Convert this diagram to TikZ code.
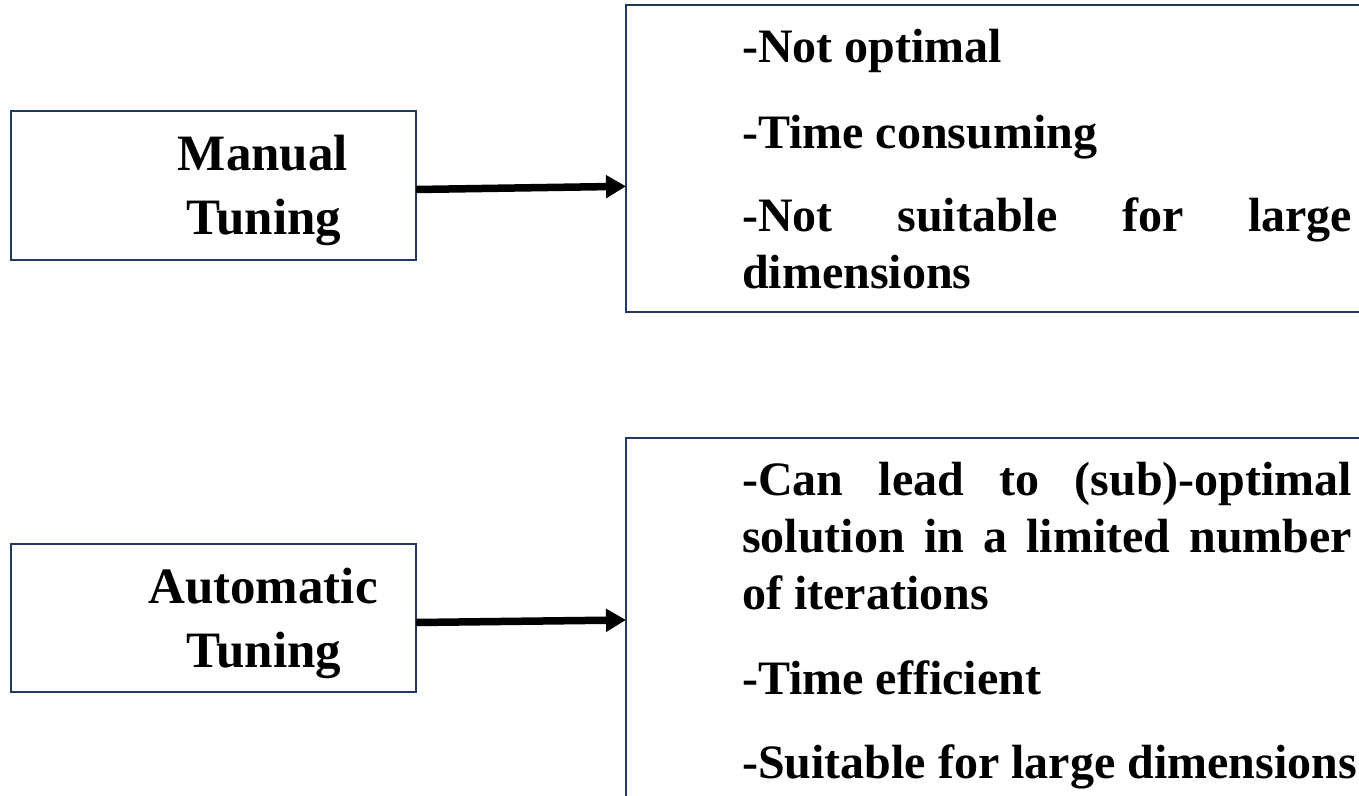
\documentclass[tikz,border=0pt]{standalone}
\usepackage{fontspec}
\setmainfont{Liberation Serif}
\usetikzlibrary{arrows.meta}
\definecolor{boxblue}{RGB}{32,56,100}
\begin{document}
\begin{tikzpicture}[x=1bp,y=-1bp,
  frame/.style={draw=boxblue, line width=2bp, anchor=north west, inner sep=0pt, outer sep=0pt},
  lefttxt/.style={anchor=base, inner sep=0pt, font=\fontsize{51bp}{60bp}\selectfont\bfseries},
  righttxt/.style={anchor=base west, inner sep=0pt, font=\fontsize{48bp}{56bp}\selectfont\bfseries},
  arr/.style={line width=7.5bp, -{Triangle[length=20bp,width=22bp]}}]
\useasboundingbox (0,0) rectangle (1359,795);
\clip (0,0) rectangle (1359,795);

% left boxes
\node[frame, minimum width=405bp, minimum height=149bp] (man) at (11,111) {};
\node[frame, minimum width=405bp, minimum height=148bp] (auto) at (11,544) {};

% right boxes (running past the page edge)
\node[frame, minimum width=800bp, minimum height=307bp] (manres) at (626,5) {};
\node[frame, minimum width=800bp, minimum height=400bp] (autores) at (626,438) {};

% box titles
\node[lefttxt] (manA) at (263,170) {Manual};
\node[lefttxt] (manB) at (264,234) {Tuning};
\node[lefttxt] (autoA) at (263,603) {Automatic};
\node[lefttxt] (autoB) at (264,667) {Tuning};

% properties of manual tuning
\node[righttxt] (m1) at (742,63) {-Not optimal};
\node[righttxt] (m2) at (742,148) {-Time consuming};
\node[righttxt] (m3) at (742,231) {\hbox to 610bp{-Not\hfill suitable\hfill for\hfill large}};
\node[righttxt] (m4) at (742,288) {dimensions};

% properties of automatic tuning
\node[righttxt] (a1) at (742,495) {\hbox to 610bp{-Can\hfill lead\hfill to\hfill (sub)-optimal}};
\node[righttxt] (a2) at (742,552) {\hbox to 610bp{solution\hfill in\hfill a\hfill limited\hfill number}};
\node[righttxt] (a3) at (742,609) {of iterations};
\node[righttxt] (a4) at (742,694) {-Time efficient};
\node[righttxt] (a5) at (742,778) {-Suitable for large dimensions};

% connectors
\draw[arr] ([yshift=-4bp]man.east) -- ([yshift=-27.8bp]manres.west);
\draw[arr] ([yshift=-4.5bp]auto.east) -- ([yshift=18bp]autores.west);
\end{tikzpicture}
\end{document}
